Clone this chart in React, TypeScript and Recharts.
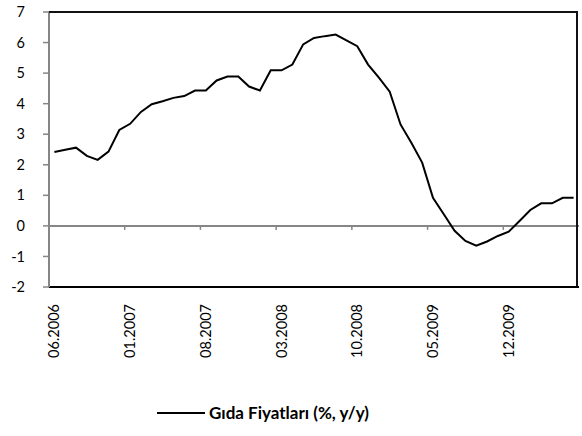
import React from "react";
import {
  LineChart,
  Line,
  XAxis,
  YAxis,
  ReferenceLine,
  Legend,
} from "recharts";

const months = [
  "06.2006", "07.2006", "08.2006", "09.2006", "10.2006", "11.2006", "12.2006",
  "01.2007", "02.2007", "03.2007", "04.2007", "05.2007", "06.2007", "07.2007",
  "08.2007", "09.2007", "10.2007", "11.2007", "12.2007", "01.2008", "02.2008",
  "03.2008", "04.2008", "05.2008", "06.2008", "07.2008", "08.2008", "09.2008",
  "10.2008", "11.2008", "12.2008", "01.2009", "02.2009", "03.2009", "04.2009",
  "05.2009", "06.2009", "07.2009", "08.2009", "09.2009", "10.2009", "11.2009",
  "12.2009", "01.2010", "02.2010", "03.2010", "04.2010", "05.2010", "06.2010",
];

const gidaFiyatlari = [
  2.42, 2.49, 2.56, 2.29, 2.16, 2.43, 3.14,
  3.34, 3.73, 3.98, 4.08, 4.19, 4.25, 4.43,
  4.43, 4.76, 4.89, 4.89, 4.56, 4.43, 5.09,
  5.09, 5.28, 5.94, 6.15, 6.21, 6.26, 6.07,
  5.88, 5.28, 4.85, 4.39, 3.32, 2.72, 2.07,
  0.92, 0.38, -0.16, -0.49, -0.65, -0.51, -0.33,
  -0.19, 0.16, 0.52, 0.74, 0.74, 0.92, 0.92,
];

const yTicks = [-2, -1, 0, 1, 2, 3, 4, 5, 6, 7];

const seriesName = "Gıda Fiyatları (%, y/y)";

const data = months.map((m, i) => ({ month: m, value: gidaFiyatlari[i] }));

const W = 582;
const H = 436;
const PLOT_LEFT = 49;
const PLOT_RIGHT = 579;
const PLOT_TOP = 12;
const PLOT_BOTTOM = 287;
const LEGEND_H = 40;
const STEP = (PLOT_RIGHT - PLOT_LEFT) / months.length;
const ZERO_Y = PLOT_TOP + ((PLOT_BOTTOM - PLOT_TOP) * 7) / 9;
const FONT = "Lato, 'Open Sans', sans-serif";
const GRAY = "#868686";

const MonthTick = (props: any) => {
  const { x, y, payload, index } = props;
  const bx = x - STEP / 2;
  return (
    <g>
      {index > 0 && (
        <line x1={bx} x2={bx} y1={ZERO_Y} y2={ZERO_Y + 4} stroke={GRAY} strokeWidth={1.5} />
      )}
      <text
        transform={`translate(${x},${y + 17}) rotate(-90)`}
        textAnchor="end"
        dy="0.35em"
        fontSize={14.5}
        fontFamily={FONT}
        fill="#000"
      >
        {payload.value}
      </text>
    </g>
  );
};

const LegendContent = () => (
  <div style={{ height: LEGEND_H, position: "relative", fontFamily: FONT }}>
    <svg width={W} height={LEGEND_H} style={{ display: "block" }}>
      <line x1={157} x2={205} y1={17} y2={17} stroke="#000" strokeWidth={2} />
      <text x={209} y={17} dy="0.35em" fontSize={17} fontWeight="bold" fill="#000" fontFamily={FONT}>
        {seriesName}
      </text>
    </svg>
  </div>
);

export default function App() {
  return (
    <div style={{ width: W, height: H, background: "#fff", position: "absolute", left: 0, top: 0 }}>
      <LineChart
        width={W}
        height={H}
        data={data}
        margin={{ top: PLOT_TOP, right: W - PLOT_RIGHT, bottom: 0, left: 0 }}
      >
        <XAxis
          dataKey="month"
          interval={6}
          padding={{ left: STEP / 2, right: STEP / 2 }}
          height={H - PLOT_BOTTOM - LEGEND_H}
          axisLine={{ stroke: "#000", strokeWidth: 2 }}
          tickLine={false}
          tickSize={0}
          tickMargin={0}
          tick={<MonthTick />}
        />
        <YAxis
          domain={[-2, 7]}
          ticks={yTicks}
          interval={0}
          width={PLOT_LEFT}
          axisLine={{ stroke: GRAY, strokeWidth: 2 }}
          tickLine={{ stroke: GRAY, strokeWidth: 1.5 }}
          tickSize={6}
          tickMargin={18}
          tick={{ fontSize: 14.5, fontFamily: FONT, fill: "#000" }}
        />
        <ReferenceLine y={0} stroke={GRAY} strokeWidth={2} />
        <Legend verticalAlign="bottom" height={LEGEND_H} content={<LegendContent />} />
        <Line
          type="linear"
          dataKey="value"
          name={seriesName}
          stroke="#000"
          strokeWidth={2}
          dot={false}
          isAnimationActive={false}
        />
      </LineChart>
      {/* plot frame: top and right edges */}
      <div
        style={{
          position: "absolute",
          left: PLOT_LEFT,
          top: PLOT_TOP - 1,
          width: PLOT_RIGHT - PLOT_LEFT - 1,
          height: PLOT_BOTTOM - PLOT_TOP,
          borderTop: "2px solid #111",
          borderRight: "2px solid #111",
          boxSizing: "border-box",
          pointerEvents: "none",
        }}
      />
    </div>
  );
}
